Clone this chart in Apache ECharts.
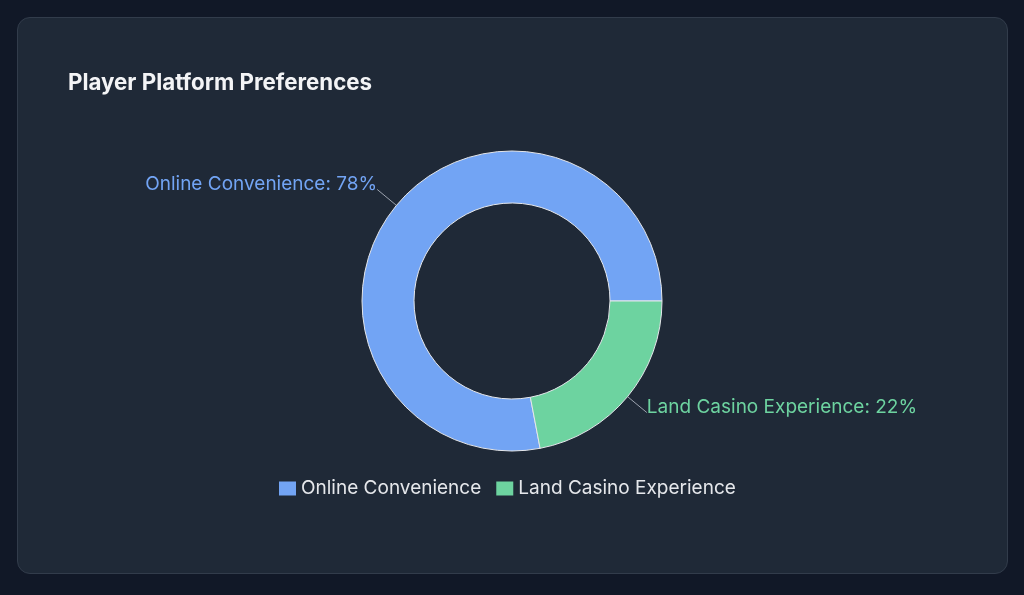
<!DOCTYPE html>
<html>
<head>
<meta charset="utf-8">
<script src="https://cdn.jsdelivr.net/npm/echarts@6/dist/echarts.min.js"></script>
<style>
html,body{margin:0;padding:0;background:#111827;width:1024px;height:595px;overflow:hidden;}
#card{position:absolute;left:17px;top:17px;width:989px;height:555px;background:#1f2937;border:1px solid #323c4b;border-radius:13px;}
#chart{position:absolute;left:0;top:0;width:989px;height:555px;}
</style>
</head>
<body>
<div id="card"><div id="chart"></div></div>
<script>
const titleText = 'Player Platform Preferences';
const categories = ['Online Convenience', 'Land Casino Experience'];
const values = [78, 22];
const colors = ['#72a4f4', '#6dd3a0'];

const chart = echarts.init(document.getElementById('chart'), null, {renderer: 'canvas'});
const FONT = 'Inter, "Noto Sans", "Liberation Sans", sans-serif';
chart.setOption({
  backgroundColor: 'transparent',
  animation: false,
  title: {
    text: titleText,
    left: 45,
    top: 49,
    textStyle: {color: '#f3f4f6', fontSize: 22.3, fontWeight: 'bold', fontFamily: FONT}
  },
  legend: {
    bottom: 70,
    left: 256,
    itemWidth: 17,
    itemHeight: 14,
    itemGap: 15,
    icon: 'rect',
    itemStyle: {borderWidth: 0},
    textStyle: {color: '#e5e7eb', fontSize: 19, fontFamily: FONT},
    data: categories
  },
  series: [{
    type: 'pie',
    center: [494, 283],
    radius: [98, 150],
    startAngle: 0,
    clockwise: false,
    avoidLabelOverlap: false,
    itemStyle: {borderColor: '#e5e7eb', borderWidth: 1},
    label: {
      show: true,
      formatter: '{t|{b}: {c}%}',
      fontSize: 19,
      fontFamily: FONT,
      distanceToLabelLine: 0,
      rich: {
        t: {fontSize: 19, fontFamily: FONT, padding: [0, 0, 10, 0]}
      }
    },
    labelLine: {show: true, length: 25, length2: 0, lineStyle: {color: '#9ca3af', width: 1}},
    emphasis: {disabled: true},
    data: categories.map((c, i) => ({
      name: c, value: values[i],
      itemStyle: {color: colors[i]},
      label: {color: colors[i], rich: {t: {color: colors[i], fontSize: 19, fontFamily: FONT, padding: [0, 0, 10, 0]}}}
    }))
  }]
});
</script>
</body>
</html>
